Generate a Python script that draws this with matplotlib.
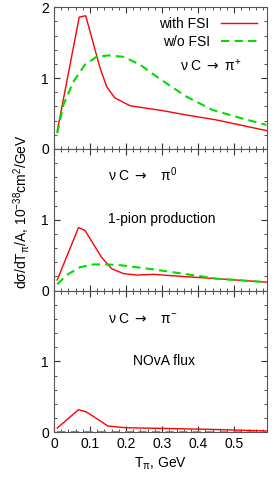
import matplotlib
matplotlib.use('Agg')
import matplotlib.pyplot as plt
from matplotlib.ticker import MultipleLocator

plt.rcParams['font.family'] = ['Liberation Sans', 'DejaVu Sans']
plt.rcParams['mathtext.fontset'] = 'custom'
plt.rcParams['mathtext.rm'] = 'Liberation Sans'
plt.rcParams['mathtext.it'] = 'Liberation Sans'
plt.rcParams['mathtext.sf'] = 'DejaVu Sans'

# pi+ panel
x_pp_fsi = [0.009, 0.07, 0.088, 0.128, 0.146, 0.169, 0.211, 0.276, 0.302, 0.367, 0.45, 0.533, 0.589]
y_pp_fsi = [0.25, 1.86, 1.88, 1.14, 0.88, 0.72, 0.61, 0.56, 0.54, 0.48, 0.41, 0.32, 0.26]
x_pp_nofsi = [0.009, 0.026, 0.054, 0.086, 0.118, 0.151, 0.193, 0.239, 0.271, 0.311, 0.367, 0.44, 0.515, 0.589]
y_pp_nofsi = [0.22, 0.62, 0.95, 1.19, 1.30, 1.32, 1.30, 1.19, 1.07, 0.93, 0.74, 0.55, 0.44, 0.34]

# pi0 panel
x_p0_fsi = [0.009, 0.068, 0.086, 0.109, 0.132, 0.16, 0.193, 0.23, 0.276, 0.357, 0.45, 0.589]
y_p0_fsi = [0.15, 0.89, 0.85, 0.66, 0.47, 0.31, 0.24, 0.22, 0.23, 0.20, 0.17, 0.12]
x_p0_nofsi = [0.009, 0.035, 0.072, 0.109, 0.146, 0.183, 0.276, 0.357, 0.45, 0.589]
y_p0_nofsi = [0.09, 0.22, 0.33, 0.37, 0.37, 0.36, 0.30, 0.24, 0.17, 0.12]

# pi- panel
x_pm_fsi = [0.009, 0.068, 0.089, 0.126, 0.149, 0.2, 0.311, 0.45, 0.589]
y_pm_fsi = [0.06, 0.32, 0.29, 0.17, 0.09, 0.065, 0.055, 0.04, 0.02]
x_pm_nofsi = [0.009, 0.2, 0.4, 0.589]
y_pm_nofsi = [0.004, 0.003, 0.002, 0.001]

xticks = [0, 0.1, 0.2, 0.3, 0.4, 0.5]
xticklabels = ['0', '0.1', '0.2', '0.3', '0.4', '0.5']

fig, axes = plt.subplots(3, 1, figsize=(2.74, 4.82), dpi=100, sharex=True)
fig.subplots_adjust(left=0.197, right=0.973, top=0.985, bottom=0.103, hspace=0)

data = [
    (x_pp_fsi, y_pp_fsi, x_pp_nofsi, y_pp_nofsi),
    (x_p0_fsi, y_p0_fsi, x_p0_nofsi, y_p0_nofsi),
    (x_pm_fsi, y_pm_fsi, x_pm_nofsi, y_pm_nofsi),
]

for i, (ax, (xa, ya, xb, yb)) in enumerate(zip(axes, data)):
    ax.plot(xa, ya, color='#ff0000', lw=1.0, label='with FSI')
    ax.plot(xb, yb, color='#00dd00', lw=1.5, ls=(0, (4, 2.5)), label='w/o FSI')
    ax.set_xlim(0, 0.59)
    ax.set_ylim(0, 2)
    ax.xaxis.set_minor_locator(MultipleLocator(0.02))
    ax.yaxis.set_minor_locator(MultipleLocator(0.2))
    if i == 0:
        ax.set_yticks([0, 1, 2])
        ax.set_yticklabels(['0', '1', '2'])
    else:
        ax.set_yticks([0, 1])
        ax.set_yticklabels(['0', '1'])
    ax.tick_params(which='both', direction='in', top=True, right=True,
                   labelsize=10, colors='#333333', labelcolor='black')
    ax.tick_params(which='major', length=4)
    ax.tick_params(which='minor', length=2)
    for s in ax.spines.values():
        s.set_color('#555555')
        s.set_linewidth(0.8)

axes[2].set_xticks(xticks)
axes[2].set_xticklabels(xticklabels)

axes[0].legend(loc='upper right', frameon=False, markerfirst=False, fontsize=10,
               handlelength=2.6, borderaxespad=0.3, labelspacing=0.3)

arrow = r'$\mathsf{\rightarrow}$'
axes[0].text(0.35, 1.1, 'ν C ' + arrow + ' π$^{+}$', fontsize=10)
axes[1].text(0.15, 1.55, 'ν C ' + arrow + '   π$^{0}$', fontsize=10)
axes[1].text(0.15, 0.95, '1-pion production', fontsize=10)
axes[2].text(0.15, 1.55, 'ν C ' + arrow + '   π$^{-}$', fontsize=10)
axes[2].text(0.22, 0.95, 'NOvA flux', fontsize=10)

axes[2].set_xlabel('T$_{π}$, GeV', fontsize=10, labelpad=3)
fig.text(0.078, 0.56, 'dσ/dT$_{π}$/A, 10$^{-38}$cm$^{2}$/GeV',
         rotation=90, ha='center', va='center', fontsize=10)

fig.savefig('out.png', dpi=100)
